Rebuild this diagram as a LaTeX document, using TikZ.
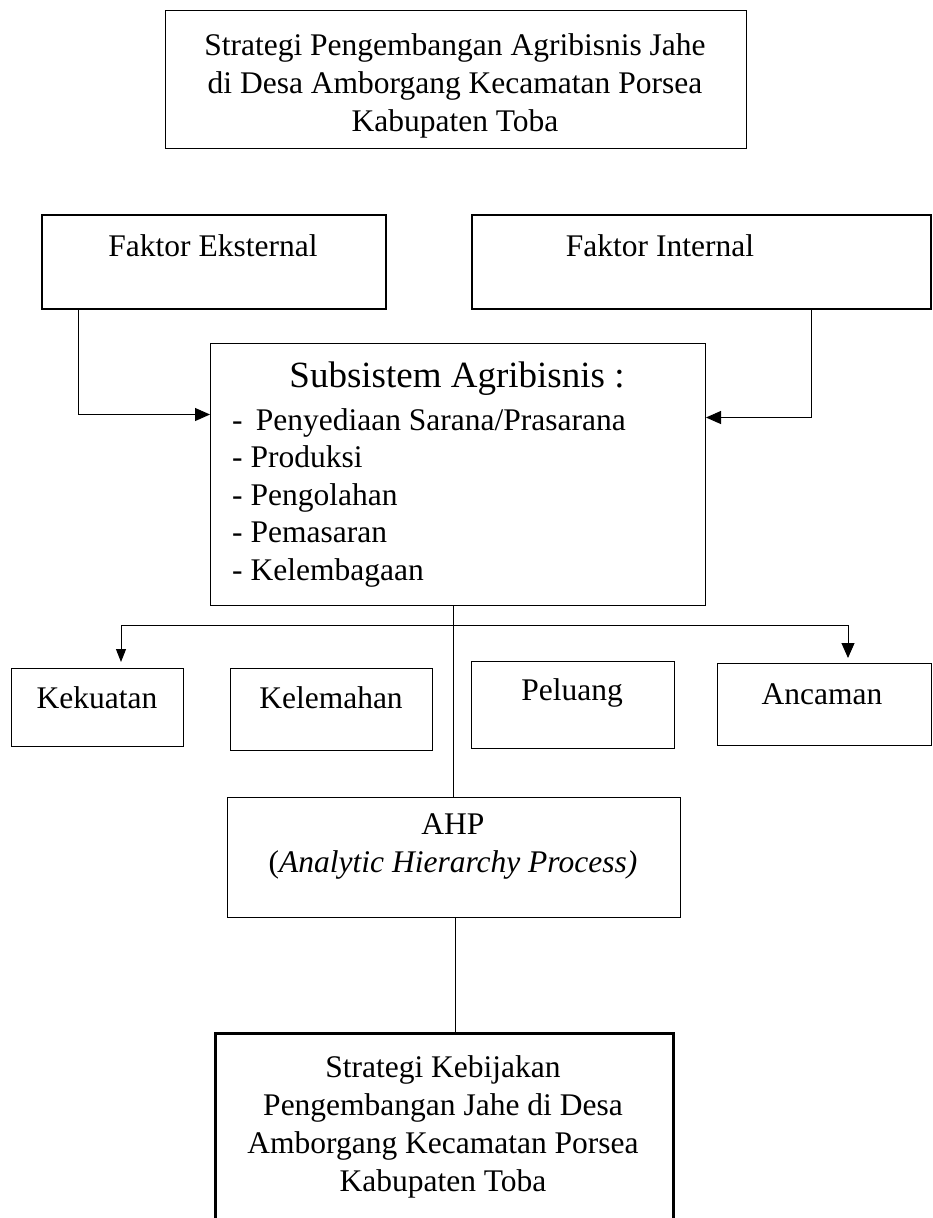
\documentclass[tikz,border=0pt]{standalone}
\usepackage{fontspec}
\setmainfont{Liberation Serif}
\usetikzlibrary{arrows.meta}
\begin{document}
\begin{tikzpicture}[x=1pt,y=-1pt,
  box/.style={draw, line width=1pt, inner sep=0pt, anchor=north west},
  txt/.style={inner sep=0pt, anchor=base, align=center, font=\fontsize{31.5}{38}\selectfont},
  link/.style={line width=1pt},
  arr/.style={line width=1pt, -{Triangle[length=15pt,width=13pt]}},
  arrs/.style={line width=1pt, -{Triangle[length=13pt,width=10pt]}}]
\useasboundingbox (0,0) rectangle (932,1218);
\clip (0,0) rectangle (932,1218);
% boxes
\node[box, minimum width=581pt, minimum height=138pt] (top) at (165,10) {};
\node[box, line width=1.5pt, minimum width=344pt, minimum height=94pt] (fe) at (41,214) {};
\node[box, line width=1.5pt, minimum width=459pt, minimum height=94pt] (fi) at (471,214) {};
\node[box, minimum width=495pt, minimum height=262pt] (sub) at (210,343) {};
\node[box, minimum width=172pt, minimum height=78pt] (kek) at (11,668) {};
\node[box, minimum width=202pt, minimum height=82pt] (kel) at (230,668) {};
\node[box, minimum width=203pt, minimum height=87pt] (pel) at (471,661) {};
\node[box, minimum width=214pt, minimum height=82pt] (anc) at (717,663) {};
\node[box, minimum width=453pt, minimum height=120pt] (ahp) at (227,797) {};
\node[box, line width=2.5pt, minimum width=458pt, minimum height=240pt] (bot) at (214,1032) {};
% texts (multi-line nodes anchored at the baseline of their last line)
\node[txt] (ttop) at (455,131) {Strategi Pengembangan Agribisnis Jahe\\di Desa Amborgang Kecamatan Porsea\\Kabupaten Toba};
\node[txt] (tfe) at (213,256) {Faktor Eksternal};
\node[txt] (tfi) at (660,256) {Faktor Internal};
\node[txt, font=\fontsize{37}{44}\selectfont] (tsub) at (457,387) {Subsistem Agribisnis :};
\node[txt, anchor=base west, align=left, font=\fontsize{31.5}{37.5}\selectfont] (tlist) at (232,580)
  {-\, Penyediaan Sarana/Prasarana\\- Produksi\\- Pengolahan\\- Pemasaran\\- Kelembagaan};
\node[txt] (tkek) at (97,708) {Kekuatan};
\node[txt] (tkel) at (331,708) {Kelemahan};
\node[txt] (tpel) at (572,700) {Peluang};
\node[txt] (tanc) at (822,704) {Ancaman};
\node[txt] (tahp) at (453,872) {AHP\\(\textit{Analytic Hierarchy Process)}};
\node[txt] (tbot) at (443,1191) {Strategi Kebijakan\\Pengembangan Jahe di Desa\\Amborgang Kecamatan Porsea\\Kabupaten Toba};
% connectors
\draw[arr] ([xshift=37pt]fe.south west) |- ([yshift=60pt]sub.west);
\draw[arr] ([xshift=-120pt]fi.south east) |- ([yshift=57pt]sub.east);
\draw[link] ([xshift=-5pt]sub.south) -- ([xshift=-5pt]sub.south |- ahp.north);
\coordinate (hl) at (121,625);
\coordinate (hr) at (848,625);
\draw[link] (hl) -- (hr);
\draw[arrs] (hl) -- ([yshift=6pt]hl |- kek.north);
\draw[arr] (hr) -- ([yshift=5pt]hr |- anc.north);
\draw[link] ([xshift=1pt]ahp.south) -- ([xshift=1pt]ahp.south |- bot.north);
\end{tikzpicture}
\end{document}
